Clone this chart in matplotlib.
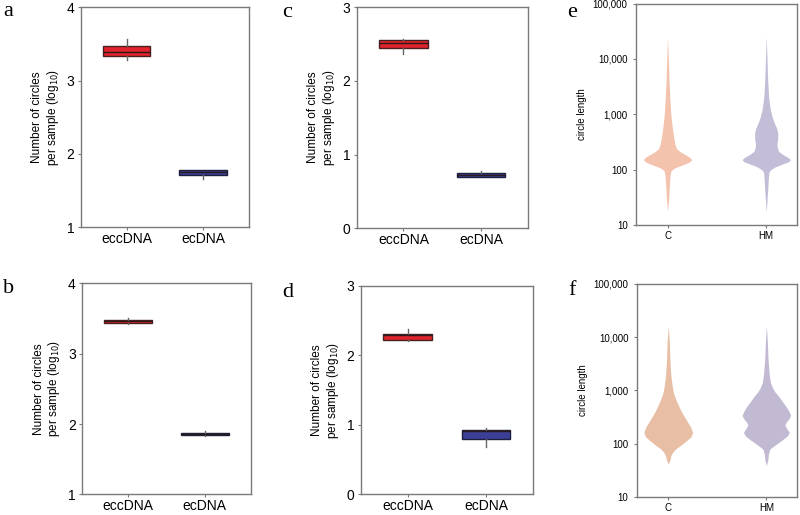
import matplotlib
matplotlib.use("Agg")
import matplotlib.pyplot as plt

plt.rcParams['font.family'] = ['Liberation Sans', 'DejaVu Sans']

# ---------------- box panels (log10 circles per sample) ----------------
cats = ["eccDNA", "ecDNA"]

# [q1, med, q3, whislo, whishi] per category
a_stats = [[3.33, 3.39, 3.47, 3.28, 3.57], [1.705, 1.75, 1.775, 1.65, 1.775]]
b_stats = [[3.435, 3.46, 3.475, 3.415, 3.505], [1.845, 1.86, 1.875, 1.83, 1.90]]
c_stats = [[2.45, 2.52, 2.55, 2.37, 2.57], [0.69, 0.72, 0.745, 0.69, 0.78]]
d_stats = [[2.22, 2.29, 2.30, 2.21, 2.38], [0.80, 0.91, 0.93, 0.685, 0.955]]

ab_ticks = [1, 2, 3, 4]
cd_ticks = [0, 1, 2, 3]

# ---------------- violin panels (circle length) ----------------
groups = ["C", "HM"]
len_ticks = [10, 100, 1000, 10000, 100000]
len_labels = ["10", "100", "1,000", "10,000", "100,000"]

# log10(length) levels and half widths (pixels)
e_c_log = [4.40, 4.0, 3.6, 3.3, 3.0, 2.8, 2.6, 2.45, 2.38, 2.32, 2.27, 2.22, 2.18,
           2.14, 2.10, 2.06, 2.02, 1.98, 1.9, 1.7, 1.5, 1.24]
e_c_hw = [0, 0.8, 1.5, 2.3, 3.3, 4.5, 6, 7.5, 9, 13, 18, 22.5, 24.2,
          22, 17, 11, 6, 3.5, 2.5, 1.8, 1.2, 0]
e_hm_log = [4.40, 4.0, 3.6, 3.3, 3.1, 2.95, 2.85, 2.75, 2.65, 2.55, 2.47, 2.40, 2.33,
            2.27, 2.22, 2.18, 2.14, 2.10, 2.05, 2.0, 1.95, 1.8, 1.6, 1.24]
e_hm_hw = [0, 0.8, 1.5, 2.5, 4, 6, 8, 10.5, 11.7, 11.5, 10.8, 11, 12.5,
           17, 22, 24.3, 22, 16, 9, 4.5, 2.6, 2, 1.4, 0]

f_c_log = [4.21, 3.9, 3.6, 3.3, 3.1, 2.95, 2.84, 2.7, 2.59, 2.48, 2.40, 2.3, 2.21,
           2.13, 2.06, 1.98, 1.9, 1.84, 1.78, 1.7, 1.62]
f_c_hw = [0, 1.1, 1.6, 2.5, 3.8, 5.2, 7.3, 10.5, 13.3, 16.8, 19.3, 22.5, 24,
          22.5, 18.3, 13, 7.3, 4.5, 2.7, 1.8, 0]
f_hm_log = [4.21, 3.9, 3.6, 3.3, 3.15, 3.05, 2.97, 2.90, 2.80, 2.68, 2.60, 2.53, 2.46,
            2.40, 2.35, 2.29, 2.21, 2.14, 2.06, 1.98, 1.90, 1.8, 1.7, 1.59]
f_hm_hw = [0, 1, 1.6, 2.8, 4, 6, 8.5, 11.7, 15.5, 20, 22.5, 24, 22,
           19.5, 18.3, 20, 22.7, 20.5, 15, 9, 3.5, 2, 1.5, 0]

fig = plt.figure(figsize=(8, 5.15), dpi=100)

spine_col = "#7a7a7a"


def style(ax):
    for s in ax.spines.values():
        s.set_color(spine_col)
        s.set_linewidth(1.0)
    ax.tick_params(direction="out", length=2.5, width=0.8, color=spine_col)


def box_panel(pos, stats, ticks):
    ax = fig.add_axes(pos)
    bx = []
    for i in range(2):
        q1, med, q3, lo, hi = stats[i]
        bx.append({"q1": q1, "med": med, "q3": q3, "whislo": lo, "whishi": hi,
                   "fliers": []})
    art = ax.bxp(bx, positions=[1, 2], widths=0.62, patch_artist=True,
                 showcaps=False, showfliers=False,
                 medianprops=dict(color="#2a1a1a", linewidth=1.0),
                 whiskerprops=dict(color="#666666", linewidth=1.0),
                 boxprops=dict(linewidth=1.0))
    art["boxes"][0].set_facecolor("#e0232c")
    art["boxes"][0].set_edgecolor("#4a2020")
    art["boxes"][1].set_facecolor("#3b3f95")
    art["boxes"][1].set_edgecolor("#1e1f40")
    ax.set_xlim(0.4, 2.6)
    ax.set_ylim(ticks[0], ticks[-1])
    ax.set_yticks(ticks)
    ax.set_xticks([1, 2])
    ax.set_xticklabels(cats, fontsize=10)
    ax.tick_params(axis="y", labelsize=10, pad=2)
    ax.tick_params(axis="x", pad=1)
    ax.set_ylabel("Number of circles\nper sample (log$_{10}$)",
                  fontsize=8.5, linespacing=1.15, labelpad=4,
                  family=['Liberation Sans Narrow', 'Liberation Sans'])
    style(ax)
    return ax


def violin_panel(pos, profiles, colors, unit):
    ax = fig.add_axes(pos)
    for i in range(2):
        lg, hw = profiles[i]
        ys = [10 ** v for v in lg]
        ax.fill_betweenx(ys, [i + 1 - w / unit for w in hw],
                         [i + 1 + w / unit for w in hw],
                         color=colors[i], linewidth=0)
    ax.set_yscale("log")
    ax.set_ylim(10, 100000)
    ax.set_yticks(len_ticks)
    ax.set_yticklabels(len_labels)
    ax.minorticks_off()
    ax.set_xlim(0.68, 2.31)
    ax.set_xticks([1, 2])
    ax.set_xticklabels(groups)
    ax.tick_params(labelsize=7)
    ax.tick_params(axis="x", pad=2)
    ax.set_ylabel("circle length", fontsize=7, labelpad=4,
                  family=['Liberation Sans Narrow', 'Liberation Sans'])
    style(ax)
    return ax


box_panel([0.101, 0.559, 0.210, 0.427], a_stats, ab_ticks)
box_panel([0.446, 0.557, 0.214, 0.429], c_stats, cd_ticks)
box_panel([0.1025, 0.040, 0.211, 0.410], b_stats, ab_ticks)
box_panel([0.451, 0.040, 0.215, 0.405], d_stats, cd_ticks)

violin_panel([0.795, 0.563, 0.201, 0.430],
             [(e_c_log, e_c_hw), (e_hm_log, e_hm_hw)], ["#f3c3ad", "#c4bdd7"], 99.0)
violin_panel([0.796, 0.035, 0.200, 0.414],
             [(f_c_log, f_c_hw), (f_hm_log, f_hm_hw)], ["#e8bea4", "#c2bad3"], 97.0)

letters = [("a", 3, 16), ("c", 282, 17), ("e", 567, 17),
           ("b", 3, 293), ("d", 282, 297), ("f", 568, 295)]
for t, x, y in letters:
    fig.text(x / 800, 1 - y / 515, t, fontsize=16, family="Liberation Serif",
             va="baseline", ha="left")

fig.savefig("out.png", dpi=100)
